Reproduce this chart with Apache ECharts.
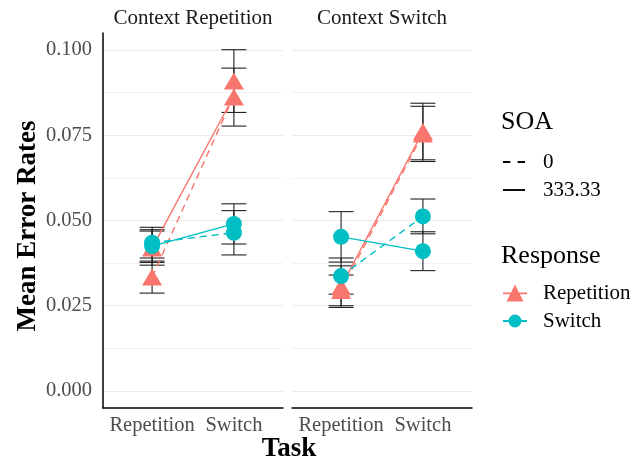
<!DOCTYPE html>
<html><head><meta charset="utf-8">
<script src="https://cdn.jsdelivr.net/npm/echarts@6/dist/echarts.min.js"></script>
<style>html,body{margin:0;padding:0;background:#fff}#c{width:644px;height:462px}</style>
</head><body><div id="c"></div>
<script>
const tasks = ['Repetition', 'Switch'];
const panels = ['Context Repetition', 'Context Switch'];
const yTicks = [0, 0.025, 0.05, 0.075, 0.1];
const yMinorTicks = [0.0125, 0.0375, 0.0625, 0.0875];
const soaLevels = ['0', '333.33'];
const responseLevels = ['Repetition', 'Switch'];

// Context Repetition panel, values for [Repetition task, Switch task]
const ctxRep_respRep_soa0 = [0.0334, 0.0862];
const ctxRep_respRep_soa0_se = [0.0047, 0.0085];
const ctxRep_respRep_soa0_line = [0.0334, 0.0866];
const ctxRep_respRep_soa333 = [0.0419, 0.0909];
const ctxRep_respRep_soa333_se = [0.0050, 0.0092];
const ctxRep_respRep_soa333_line = [0.0419, 0.0866];
const ctxRep_respSw_soa0 = [0.0435, 0.0464];
const ctxRep_respSw_soa0_se = [0.0045, 0.0065];
const ctxRep_respSw_soa333 = [0.0425, 0.0490];
const ctxRep_respSw_soa333_se = [0.0048, 0.0059];

// Context Switch panel
const ctxSw_respRep_soa0 = [0.0295, 0.0754];
const ctxSw_respRep_soa0_se = [0.0045, 0.0081];
const ctxSw_respRep_soa333 = [0.0306, 0.0761];
const ctxSw_respRep_soa333_se = [0.0061, 0.0083];
const ctxSw_respSw_soa0 = [0.0337, 0.0512];
const ctxSw_respSw_soa0_se = [0.0053, 0.0051];
const ctxSw_respSw_soa333 = [0.0452, 0.0410];
const ctxSw_respSw_soa333_se = [0.0074, 0.0057];

const groups = [
  {p:0, r:0, s:0, m:ctxRep_respRep_soa0, se:ctxRep_respRep_soa0_se, line:ctxRep_respRep_soa0_line},
  {p:0, r:0, s:1, m:ctxRep_respRep_soa333, se:ctxRep_respRep_soa333_se, line:ctxRep_respRep_soa333_line},
  {p:0, r:1, s:0, m:ctxRep_respSw_soa0, se:ctxRep_respSw_soa0_se, line:ctxRep_respSw_soa0},
  {p:0, r:1, s:1, m:ctxRep_respSw_soa333, se:ctxRep_respSw_soa333_se, line:ctxRep_respSw_soa333},
  {p:1, r:0, s:0, m:ctxSw_respRep_soa0, se:ctxSw_respRep_soa0_se, line:ctxSw_respRep_soa0},
  {p:1, r:0, s:1, m:ctxSw_respRep_soa333, se:ctxSw_respRep_soa333_se, line:ctxSw_respRep_soa333},
  {p:1, r:1, s:0, m:ctxSw_respSw_soa0, se:ctxSw_respSw_soa0_se, line:ctxSw_respSw_soa0},
  {p:1, r:1, s:1, m:ctxSw_respSw_soa333, se:ctxSw_respSw_soa333_se, line:ctxSw_respSw_soa333}
];

const FONT = 'Liberation Serif';
const colors = ['#F8766D', '#00BFC4'];
const symbols = ['triangle', 'circle'];
const symbolSizes = [[20, 17], 16];
const gridLefts = [103, 292];
const Y_MIN = -0.005, Y_MAX = 0.105;

const grids = gridLefts.map(l => ({left: l, width: 180, top: 33, height: 375}));

const xAxes = [0, 1].map(p => ({
  type: 'value', gridIndex: p, min: 0.4, max: 2.6,
  axisLine: {show: true, onZero: false, lineStyle: {color: '#000', width: 1.5}},
  axisTick: {show: false, customValues: [1, 2]},
  splitLine: {show: false},
  axisLabel: {customValues: [1, 2], formatter: v => tasks[Math.round(v) - 1],
    fontFamily: FONT, fontSize: 20.5, color: '#4d4d4d', margin: 7}
}));

const yAxes = [];
[0, 1].forEach(p => {
  yAxes.push({
    type: 'value', gridIndex: p, min: Y_MIN, max: Y_MAX,
    axisLine: {show: p === 0, onZero: false, lineStyle: {color: '#000', width: 1.5}},
    axisTick: {show: false, customValues: yTicks},
    axisLabel: {show: p === 0, customValues: yTicks, formatter: v => v.toFixed(3),
      fontFamily: FONT, fontSize: 20.5, color: '#4d4d4d', margin: 11},
    splitLine: {show: true, lineStyle: {color: '#ebebeb', width: 1}},
    name: p === 0 ? 'Mean Error Rates' : '',
    nameLocation: 'middle', nameGap: 60,
    nameTextStyle: {fontFamily: FONT, fontSize: 27, fontWeight: 'bold', color: '#000', padding: [0, 0, 0, -11]}
  });
});
[0, 1].forEach(p => {
  yAxes.push({
    type: 'value', gridIndex: p, min: Y_MIN, max: Y_MAX,
    axisLine: {show: false}, axisLabel: {show: false},
    axisTick: {show: false, customValues: yMinorTicks},
    splitLine: {show: true, lineStyle: {color: '#f2f2f2', width: 1}}
  });
});

const series = [];
// error bars
groups.forEach(g => {
  series.push({
    type: 'custom', xAxisIndex: g.p, yAxisIndex: g.p, silent: true, z: 2,
    data: tasks.map((t, i) => [i + 1, g.m[i] - g.se[i], g.m[i] + g.se[i]]),
    encode: {x: 0, y: [1, 2]},
    renderItem: (params, api) => {
      const x = api.value(0);
      const a = api.coord([x, api.value(1)]);
      const b = api.coord([x, api.value(2)]);
      const w = 12.5;
      const st = {stroke: '#222', lineWidth: 1.1};
      return {type: 'group', children: [
        {type: 'line', shape: {x1: a[0], y1: a[1], x2: b[0], y2: b[1]}, style: st},
        {type: 'line', shape: {x1: a[0] - w, y1: a[1], x2: a[0] + w, y2: a[1]}, style: st},
        {type: 'line', shape: {x1: b[0] - w, y1: b[1], x2: b[0] + w, y2: b[1]}, style: st}
      ]};
    }
  });
});
// lines
groups.forEach(g => {
  series.push({
    type: 'line', name: soaLevels[g.s], xAxisIndex: g.p, yAxisIndex: g.p, z: 3,
    data: tasks.map((t, i) => [i + 1, g.line[i]]),
    symbol: 'none', silent: true, animation: false,
    lineStyle: {color: colors[g.r], width: 1.4, type: g.s === 0 ? [7, 5] : 'solid'},
    itemStyle: {color: colors[g.r]}
  });
});
// points
groups.forEach(g => {
  series.push({
    type: 'scatter', name: responseLevels[g.r], xAxisIndex: g.p, yAxisIndex: g.p, z: 4,
    data: tasks.map((t, i) => [i + 1, g.m[i]]),
    symbol: symbols[g.r], symbolSize: symbolSizes[g.r], silent: true, animation: false,
    itemStyle: {color: colors[g.r], opacity: 1}
  });
});

const soaIcons = [
  'path://M0,0L7,0L7,1.8L0,1.8Z M14,0L21,0L21,1.8L14,1.8Z',
  'path://M0,0L21,0L21,1.8L0,1.8Z'
];
const legendIcons = [
  'path://M0,8L24,8L24,9.8L0,9.8Z M12,0L20.5,17L3.5,17Z',
  'path://M0,7.6L24,7.6L24,9.4L0,9.4Z M12,2A6.5,6.5 0 1 1 11.99,2Z'
];

const titleStyle = (size, color) => ({fontFamily: FONT, fontSize: size, fontWeight: 'normal', color: color});

const option = {
  animation: false,
  backgroundColor: '#fff',
  grid: grids,
  xAxis: xAxes,
  yAxis: yAxes,
  title: [
    {text: panels[0], left: 193, top: 18, textAlign: 'center', textVerticalAlign: 'middle', padding: 0, textStyle: titleStyle(21, '#1a1a1a')},
    {text: panels[1], left: 382, top: 18, textAlign: 'center', textVerticalAlign: 'middle', padding: 0, textStyle: titleStyle(21, '#1a1a1a')},
    {text: 'Task', left: 289, top: 449, textAlign: 'center', textVerticalAlign: 'middle', padding: 0,
      textStyle: {fontFamily: FONT, fontSize: 27, fontWeight: 'bold', color: '#000'}},
    {text: 'SOA', left: 501, top: 122, textAlign: 'left', textVerticalAlign: 'middle', padding: 0, textStyle: titleStyle(26, '#000')},
    {text: 'Response', left: 501, top: 256, textAlign: 'left', textVerticalAlign: 'middle', padding: 0, textStyle: titleStyle(26, '#000')}
  ],
  legend: [
    {
      orient: 'vertical', left: 503, top: 151, padding: 0, selectedMode: false,
      itemWidth: 22, itemHeight: 14, itemGap: 6,
      data: soaLevels.map((n, i) => ({name: n, icon: soaIcons[i], itemStyle: {color: '#000'}})),
      textStyle: {fontFamily: FONT, fontSize: 21, color: '#000', lineHeight: 22, padding: [0, 0, 0, 13]}
    },
    {
      orient: 'vertical', left: 503, top: 282, padding: 0, selectedMode: false,
      itemWidth: 24, itemHeight: 17, itemGap: 6,
      data: responseLevels.map((n, i) => ({name: n, icon: legendIcons[i]})),
      textStyle: {fontFamily: FONT, fontSize: 21, color: '#000', lineHeight: 22, padding: [0, 0, 0, 11]}
    }
  ],
  series: series
};

const chart = echarts.init(document.getElementById('c'), null, {renderer: 'canvas'});
chart.setOption(option);
</script>
</body></html>
